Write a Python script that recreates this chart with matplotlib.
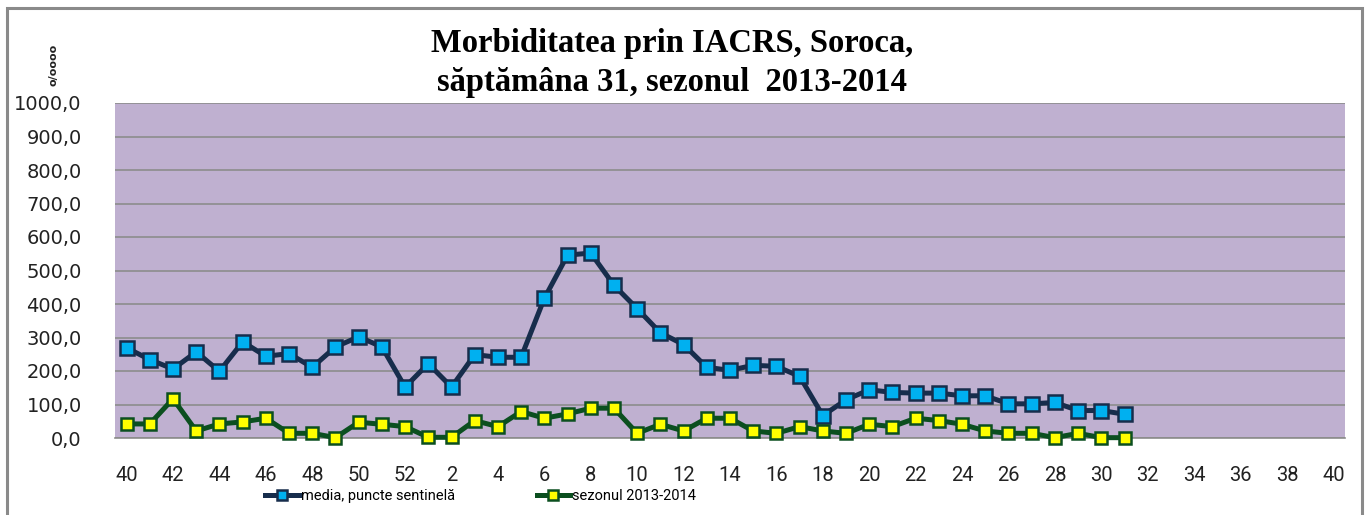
import matplotlib
matplotlib.use("Agg")
import matplotlib.pyplot as plt
from matplotlib.patches import Rectangle
from matplotlib.ticker import FixedLocator, FuncFormatter
import warnings
warnings.filterwarnings("ignore")

# ---- data ----
weeks = list(range(40, 53)) + list(range(1, 41))
tick_labels = [str(w) if i % 2 == 0 else "" for i, w in enumerate(weeks)]

media_sentinela = [269, 234, 206, 257, 199, 287, 244, 252, 211, 272,
                   302, 272, 152, 222, 152, 249, 241, 241, 417, 546,
                   552, 456, 386, 314, 279, 211, 202, 217, 214, 184,
                   67, 114, 144, 136, 134, 134, 126, 126, 102, 102,
                   106, 82, 82, 71]
sezonul_2013_2014 = [42, 42, 117, 21, 42, 48, 59, 14, 14, 1,
                     47, 41, 34, 2, 2, 52, 34, 79, 59, 72,
                     89, 89, 14, 41, 21, 59, 59, 21, 14, 34,
                     21, 14, 41, 34, 59, 52, 41, 21, 14, 14,
                     1, 14, 1, 1]
y_ticks = list(range(0, 1001, 100))

title = "Morbiditatea prin IACRS, Soroca,\nsăptămâna 31, sezonul  2013-2014"
series_names = ["media, puncte sentinelă", "sezonul 2013-2014"]

# ---- figure ----
W, H = 1368, 515
fig = plt.figure(figsize=(W / 100, H / 100), dpi=100)
fig.patch.set_facecolor("white")

def px(x0, y0):
    return x0 / W, 1 - y0 / H

left, top = px(115, 103)
right, bottom = px(1345, 438)
ax = fig.add_axes([left, bottom, right - left, top - bottom])
ax.set_facecolor("#BFB0D0")

x = list(range(len(weeks)))
ax.plot(x[:len(media_sentinela)], media_sentinela, color="#172D4C", lw=3.6,
        marker="s", ms=10.5, mfc="#00B0F0", mec="#172D4C", mew=1.8,
        label=series_names[0], zorder=3, clip_on=False)
ax.plot(x[:len(sezonul_2013_2014)], sezonul_2013_2014, color="#0B4F1F", lw=3.6,
        marker="s", ms=9, mfc="#FFFF00", mec="#0B4F1F", mew=1.8,
        label=series_names[1], zorder=3, clip_on=False)

ax.set_xlim(-0.5, len(weeks) - 0.5)
ax.set_ylim(0, 1000)
ax.xaxis.set_major_locator(FixedLocator(x))
ax.set_xticklabels(tick_labels, family="Roboto", fontsize=14.5, color="#222222")
ax.set_yticks(y_ticks)
ax.yaxis.set_major_formatter(FuncFormatter(lambda v, p: f"{v:.1f}".replace(".", ",")))
for lbl in ax.get_yticklabels():
    lbl.set_family("DejaVu Sans")
    lbl.set_fontsize(14)
    lbl.set_color("#222222")
ax.tick_params(axis="x", length=0, pad=20)
ax.tick_params(axis="y", length=0, pad=24)
ax.grid(axis="y", color="#8C8C8C", lw=1.2, zorder=1)
ax.set_axisbelow(True)
for s in ["left", "right", "top"]:
    ax.spines[s].set_visible(False)
ax.spines["bottom"].set_color("#8C8C8C")
ax.spines["bottom"].set_linewidth(1.2)

# y unit label
fig.text(54 / W, 1 - 65 / H, "o/oooo", rotation=90, ha="center", va="center",
         fontsize=8, fontweight="bold", family="DejaVu Sans", color="#222222")

# title
fig.text(672 / W, 1 - 63 / H, title, ha="center", va="center",
         fontsize=23.5, fontweight="bold", family="Liberation Serif",
         linespacing=1.35, color="black")

# legend
leg = fig.legend(loc="center left", bbox_to_anchor=(252 / W, 1 - 496 / H),
                 ncol=2, frameon=False, handlelength=2.3, handletextpad=0.15,
                 columnspacing=5.6, markerscale=0.75,
                 prop={"family": "Roboto", "size": 10.5})

# outer frame
fig.patches.append(Rectangle((7 / W, -0.05), (1362 - 7) / W, 1.05 - 8 / H,
                             transform=fig.transFigure, fill=False,
                             edgecolor="#8A8A8A", lw=2.2))

fig.savefig("out.png", dpi=100)
